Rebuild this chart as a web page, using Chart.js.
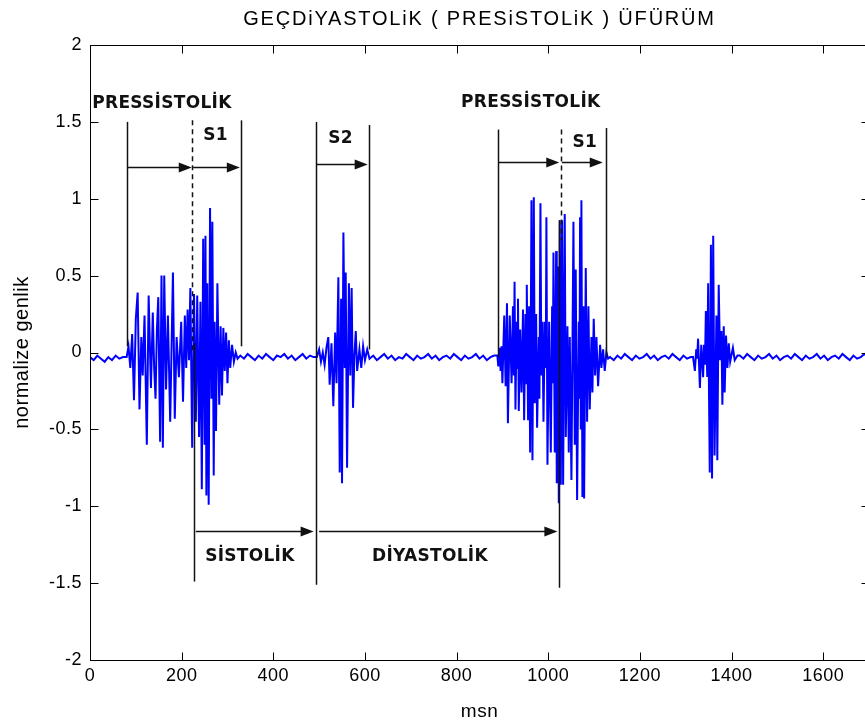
<!DOCTYPE html>
<html>
<head>
<meta charset="utf-8">
<title>GEÇDiYASTOLiK ( PRESiSTOLiK ) ÜFÜRÜM</title>
<script src="https://cdn.jsdelivr.net/npm/chart.js@4.4.1/dist/chart.umd.min.js"></script>
<style>
  html, body { margin: 0; padding: 0; background: #fff; overflow: hidden; }
  #wrap { width: 880px; height: 727px; }
</style>
</head>
<body>
<div id="wrap"><canvas id="murmurChart" width="880" height="727"></canvas></div>
<script>
// quiet stretches between heart sounds, sampled every 8 msn
const sampleStep = 8;
const quietStarts = [0, 328, 610, 1135, 1418];
const quiet0 = [-0.03,-0.05,-0.02,-0.04,-0.06,-0.03,-0.05,-0.02,-0.04,-0.03];
const quiet1 = [-0.02,-0.04,-0.01,-0.03,-0.05,-0.02,-0.04,-0.01,-0.03,-0.05,-0.02,-0.03,-0.01,-0.04,-0.02,-0.05,-0.03,-0.01,-0.04,-0.02,-0.03];
const quiet2 = [-0.04,-0.02,-0.05,-0.03,-0.01,-0.04,-0.02,-0.05,-0.03,-0.04,-0.01,-0.03,-0.05,-0.02,-0.04,-0.03,-0.01,-0.04,-0.02,-0.05,-0.03,-0.02,-0.04,-0.01,-0.03,-0.05,-0.02,-0.04,-0.03,-0.01,-0.04,-0.02,-0.05,-0.03,-0.02];
const quiet3 = [-0.03,-0.05,-0.02,-0.04,-0.01,-0.03,-0.05,-0.02,-0.04,-0.03,-0.01,-0.04,-0.02,-0.05,-0.03,-0.02,-0.04,-0.01,-0.03,-0.05,-0.02,-0.04,-0.03];
const quiet4 = [-0.02,-0.04,-0.01,-0.03,-0.05,-0.02,-0.04,-0.03,-0.01,-0.04,-0.02,-0.05,-0.03,-0.02,-0.04,-0.01,-0.03,-0.05,-0.02,-0.04,-0.03,-0.01,-0.04,-0.02,-0.05,-0.03,-0.02,-0.04,-0.01,-0.03,-0.05,-0.02,-0.04,-0.03,-0.01,-0.03];

// presystolic murmur running into S1, first beat  [msn, amplitude]
const murmurS1a = [[80,-0.03],[84,0.04],[88,-0.1],[92,0.12],[96,-0.31],[100,0.22],[104,0.39],[108,-0.37],[112,0.1],[115,-0.15],[119,0.24],[124,-0.6],[128,0.37],[133,-0.23],[137,0.26],[140,-0.1],[143,-0.3],[146,0.15],[149,0.36],[153,-0.58],[156,0.5],[159,-0.62],[162,0.5],[166,-0.24],[170,0.24],[175,-0.45],[181,0.52],[185,-0.43],[189,0.1],[194,-0.16],[199,0.2],[203,-0.32],[207,0.24],[210,-0.1],[213,0.28],[216,-0.05],[219,0.42],[223,-0.62],[227,0.38],[231,-0.45],[234,0.37],[238,-0.55],[241,0.33],[244,-0.89],[247,0.74],[250,-0.6],[252,0.76],[254,-0.93],[256,0.45],[259,-0.99],[262,0.94],[265,-0.3],[267,0.85],[270,-0.8],[272,0.2],[275,-0.51],[278,0.45],[282,-0.34],[285,0.17],[288,-0.28],[291,0.16],[294,-0.12],[297,0.13],[300,-0.2],[303,0.08],[306,-0.1],[310,0.05],[314,-0.06],[318,0.0],[322,-0.04]];

// S2, first beat
const s2a = [[495,-0.03],[500,0.02],[504,-0.06],[508,0.0],[512,-0.08],[516,0.03],[520,0.1],[523,-0.21],[527,0.06],[531,-0.35],[535,0.13],[538,-0.2],[542,0.49],[545,-0.78],[548,0.35],[550,-0.85],[553,0.78],[556,-0.1],[558,0.52],[561,-0.75],[565,0.45],[568,-0.15],[571,0.42],[574,-0.36],[577,-0.02],[580,0.14],[583,-0.12],[588,0.02],[592,-0.1],[596,0.04],[600,-0.05],[605,0.02]];

// presystolic murmur running into S1, second beat
const murmurS1b = [[889,-0.02],[891,-0.09],[894,0.03],[896,-0.12],[898,0.04],[900,-0.2],[904,0.24],[907,-0.22],[910,0.32],[912,-0.46],[916,0.24],[920,-0.2],[923,0.3],[925,-0.15],[926.5,0.46],[928.5,-0.37],[931,0.2],[932.5,-0.1],[934,0.35],[935.7,-0.38],[938.7,0.15],[941.6,-0.26],[945,0.28],[947.4,-0.44],[950.3,0.25],[952,-0.2],[953.2,0.44],[956,-0.44],[958.3,0.3],[960.5,-0.65],[963.4,0.99],[965.6,-0.7],[968.5,1.01],[970.6,-0.33],[973.6,0.25],[975.7,-0.49],[979.4,0.1],[980.8,-0.3],[983,0.97],[985,-0.15],[987.4,0.2],[989.6,-0.45],[992.5,0.2],[994.7,-0.1],[996,0.88],[998.3,-0.73],[1002,0.2],[1005.6,-0.65],[1008.5,0.3],[1010,-0.2],[1011.4,0.65],[1014.3,-0.65],[1017.2,0.66],[1018.6,-0.85],[1021.5,0.56],[1023,-0.98],[1025.2,0.86],[1027.4,-0.86],[1030.3,0.86],[1032.5,-0.86],[1036,0.9],[1038.3,-0.55],[1041.9,0.17],[1044.8,-0.65],[1047,0.1],[1050.6,-0.83],[1055,0.85],[1057.9,-0.6],[1060,0.54],[1063,-0.96],[1066.6,0.2],[1068,-0.3],[1069.5,0.88],[1071,-0.5],[1072.4,0.99],[1074.6,-0.94],[1076.8,0.3],[1078.3,-0.95],[1081.9,0.55],[1084.8,-0.45],[1087.7,0.3],[1090.6,-0.37],[1094.3,0.1],[1096.4,-0.26],[1099.3,0.22],[1102.3,-0.15],[1105.2,0.1],[1108.8,-0.22],[1113.2,0.05],[1116,-0.1],[1119.7,0.02],[1123.3,-0.12],[1127,0.0],[1130.6,-0.04]];

// S2, second beat
const s2b = [[1316,-0.03],[1320,-0.12],[1323,0.02],[1325,-0.04],[1327,0.09],[1331,-0.23],[1334,0.05],[1338,-0.16],[1340,0.05],[1342,-0.08],[1344,0.27],[1347,-0.16],[1349,0.45],[1351,-0.31],[1352,0.1],[1353,-0.78],[1355,0.7],[1357.5,-0.82],[1360,0.76],[1363,-0.67],[1367,0.24],[1369,-0.7],[1372,0.44],[1375,-0.05],[1378,0.14],[1380,-0.34],[1383,0.17],[1385,-0.26],[1388,0.11],[1391,-0.1],[1394,0.06],[1397,-0.06],[1403,0.03],[1407,-0.05],[1413,-0.02]];

// axis ticks
const xTicks = [0, 200, 400, 600, 800, 1000, 1200, 1400, 1600];
const yTicks = [-2, -1.5, -1, -0.5, 0, 0.5, 1, 1.5, 2];

// phase markers: [msn, top, bottom, dashed]
const markerLines = [
  [81, 1.50, 0.04, false],
  [223, 1.51, 0.0, true],
  [226, 0.06, -1.49, false],
  [329, 1.51, 0.04, false],
  [494, 1.50, -1.51, false],
  [608, 1.48, 0.02, false],
  [890, 1.45, -0.03, false],
  [1027, 1.45, 0.73, true],
  [1024, 0.86, -1.53, false],
  [1126, 1.46, -0.03, false]
];
// interval arrows: [from msn, to msn, level]
const spanArrows = [
  [83, 222, 1.206],
  [225, 327, 1.206],
  [495, 606, 1.226],
  [892, 1024, 1.239],
  [1030, 1119, 1.239],
  [231, 488, -1.164],
  [500, 1020, -1.164]
];
// interval names: [text, msn, level]
const phaseLabels = [
  ['PRESSİSTOLİK', 157, 1.616],
  ['S1', 274, 1.408],
  ['S2', 547, 1.389],
  ['PRESSİSTOLİK', 962, 1.623],
  ['S1', 1080, 1.366],
  ['SİSTOLİK', 349, -1.33],
  ['DİYASTOLİK', 742, -1.33]
];

const chartTitle = 'GEÇDiYASTOLiK ( PRESiSTOLiK ) ÜFÜRÜM';

// stitch quiet runs and bursts into one trace
const quietRuns = [quiet0, quiet1, quiet2, quiet3, quiet4];
const bursts = [murmurS1a, s2a, murmurS1b, s2b];
const signal = [];
quietRuns.forEach((run, i) => {
  run.forEach((v, k) => signal.push({ x: quietStarts[i] + k * sampleStep, y: v }));
  if (bursts[i]) bursts[i].forEach(([x, y]) => signal.push({ x, y }));
});

const sans = 'Liberation Sans, Arial, sans-serif';
const tickFont = { family: sans, size: 18 };

// box with inward ticks on all four sides, plus the title
const framePlugin = {
  id: 'frame',
  beforeDraw(chart) {
    chart.ctx.letterSpacing = '0.5px';
  },
  afterDraw(chart) {
    const { ctx, chartArea: a, scales } = chart;
    const L = Math.round(a.left) + 0.5, R = Math.round(a.right) + 0.5;
    const T = Math.round(a.top) + 0.5, B = Math.round(a.bottom) + 0.5;
    const len = 8;
    ctx.save();
    ctx.strokeStyle = '#000';
    ctx.lineWidth = 1;
    ctx.strokeRect(L, T, R - L, B - T);
    ctx.beginPath();
    xTicks.forEach(v => {
      const px = Math.round(scales.x.getPixelForValue(v)) + 0.5;
      ctx.moveTo(px, B); ctx.lineTo(px, B - len);
      ctx.moveTo(px, T); ctx.lineTo(px, T + len);
    });
    yTicks.forEach(v => {
      const py = Math.round(scales.y.getPixelForValue(v)) + 0.5;
      ctx.moveTo(L, py); ctx.lineTo(L + len, py);
      ctx.moveTo(R, py); ctx.lineTo(R - len, py);
    });
    ctx.stroke();

    ctx.letterSpacing = '1.8px';
    ctx.fillStyle = '#000';
    ctx.font = '20px "Liberation Sans", Arial, sans-serif';
    ctx.textAlign = 'center';
    ctx.textBaseline = 'middle';
    ctx.fillText(chartTitle, (a.left + a.right) / 2, 19);
    ctx.restore();
  }
};

// markers, arrows and interval names drawn over the trace
const phasePlugin = {
  id: 'phases',
  afterDatasetsDraw(chart) {
    const { ctx, scales: { x, y } } = chart;
    ctx.save();
    ctx.strokeStyle = '#111';
    ctx.fillStyle = '#111';
    ctx.lineWidth = 1.5;

    markerLines.forEach(([t, top, bottom, dashed]) => {
      const px = Math.round(x.getPixelForValue(t)) + 0.5;
      ctx.setLineDash(dashed ? [5, 4] : []);
      ctx.beginPath();
      ctx.moveTo(px, y.getPixelForValue(top));
      ctx.lineTo(px, y.getPixelForValue(bottom));
      ctx.stroke();
    });
    ctx.setLineDash([]);

    const head = 13, half = 5;
    spanArrows.forEach(([t1, t2, level]) => {
      const x1 = x.getPixelForValue(t1), x2 = x.getPixelForValue(t2);
      const py = Math.round(y.getPixelForValue(level)) + 0.5;
      ctx.beginPath();
      ctx.moveTo(x1, py);
      ctx.lineTo(x2 - head + 1, py);
      ctx.stroke();
      ctx.beginPath();
      ctx.moveTo(x2, py);
      ctx.lineTo(x2 - head, py - half);
      ctx.lineTo(x2 - head, py + half);
      ctx.closePath();
      ctx.fill();
    });

    ctx.letterSpacing = '0.3px';
    ctx.font = 'bold 17px "DejaVu Sans", sans-serif';
    ctx.textAlign = 'center';
    ctx.textBaseline = 'middle';
    phaseLabels.forEach(([text, t, level]) => {
      ctx.fillText(text, x.getPixelForValue(t), y.getPixelForValue(level));
    });
    ctx.restore();
  }
};

const ctx = document.getElementById('murmurChart').getContext('2d');
const murmurChart = new Chart(ctx, {
  type: 'scatter',
  data: {
    datasets: [{
      data: signal,
      showLine: true,
      borderColor: '#0000ff',
      borderWidth: 2,
      pointRadius: 0,
      tension: 0
    }]
  },
  options: {
    responsive: false,
    animation: false,
    events: [],
    layout: { padding: { top: 45, right: 11, left: 0, bottom: 0 } },
    plugins: { legend: { display: false }, tooltip: { enabled: false }, title: { display: false } },
    scales: {
      x: {
        type: 'linear',
        min: 0,
        max: 1700,
        afterBuildTicks: s => { s.ticks = xTicks.map(v => ({ value: v })); },
        afterFit: s => { s.height = 67; },
        ticks: { color: '#000', font: tickFont, padding: 5, maxRotation: 0, autoSkip: false, callback: v => String(v) },
        grid: { display: false, drawTicks: false },
        border: { display: false },
        title: { display: true, text: 'msn', color: '#000', font: { family: sans, size: 19 }, padding: { top: 0, bottom: 4 } }
      },
      y: {
        type: 'linear',
        min: -2,
        max: 2,
        afterBuildTicks: s => { s.ticks = yTicks.map(v => ({ value: v })); },
        afterFit: s => { s.width = 90; },
        ticks: { color: '#000', font: tickFont, padding: 8, callback: v => String(v) },
        grid: { display: false, drawTicks: false },
        border: { display: false },
        title: { display: true, text: 'normalize genlik', color: '#000', font: { family: sans, size: 20 }, padding: { top: 10, bottom: 0 } }
      }
    }
  },
  plugins: [framePlugin, phasePlugin]
});
</script>
</body>
</html>
